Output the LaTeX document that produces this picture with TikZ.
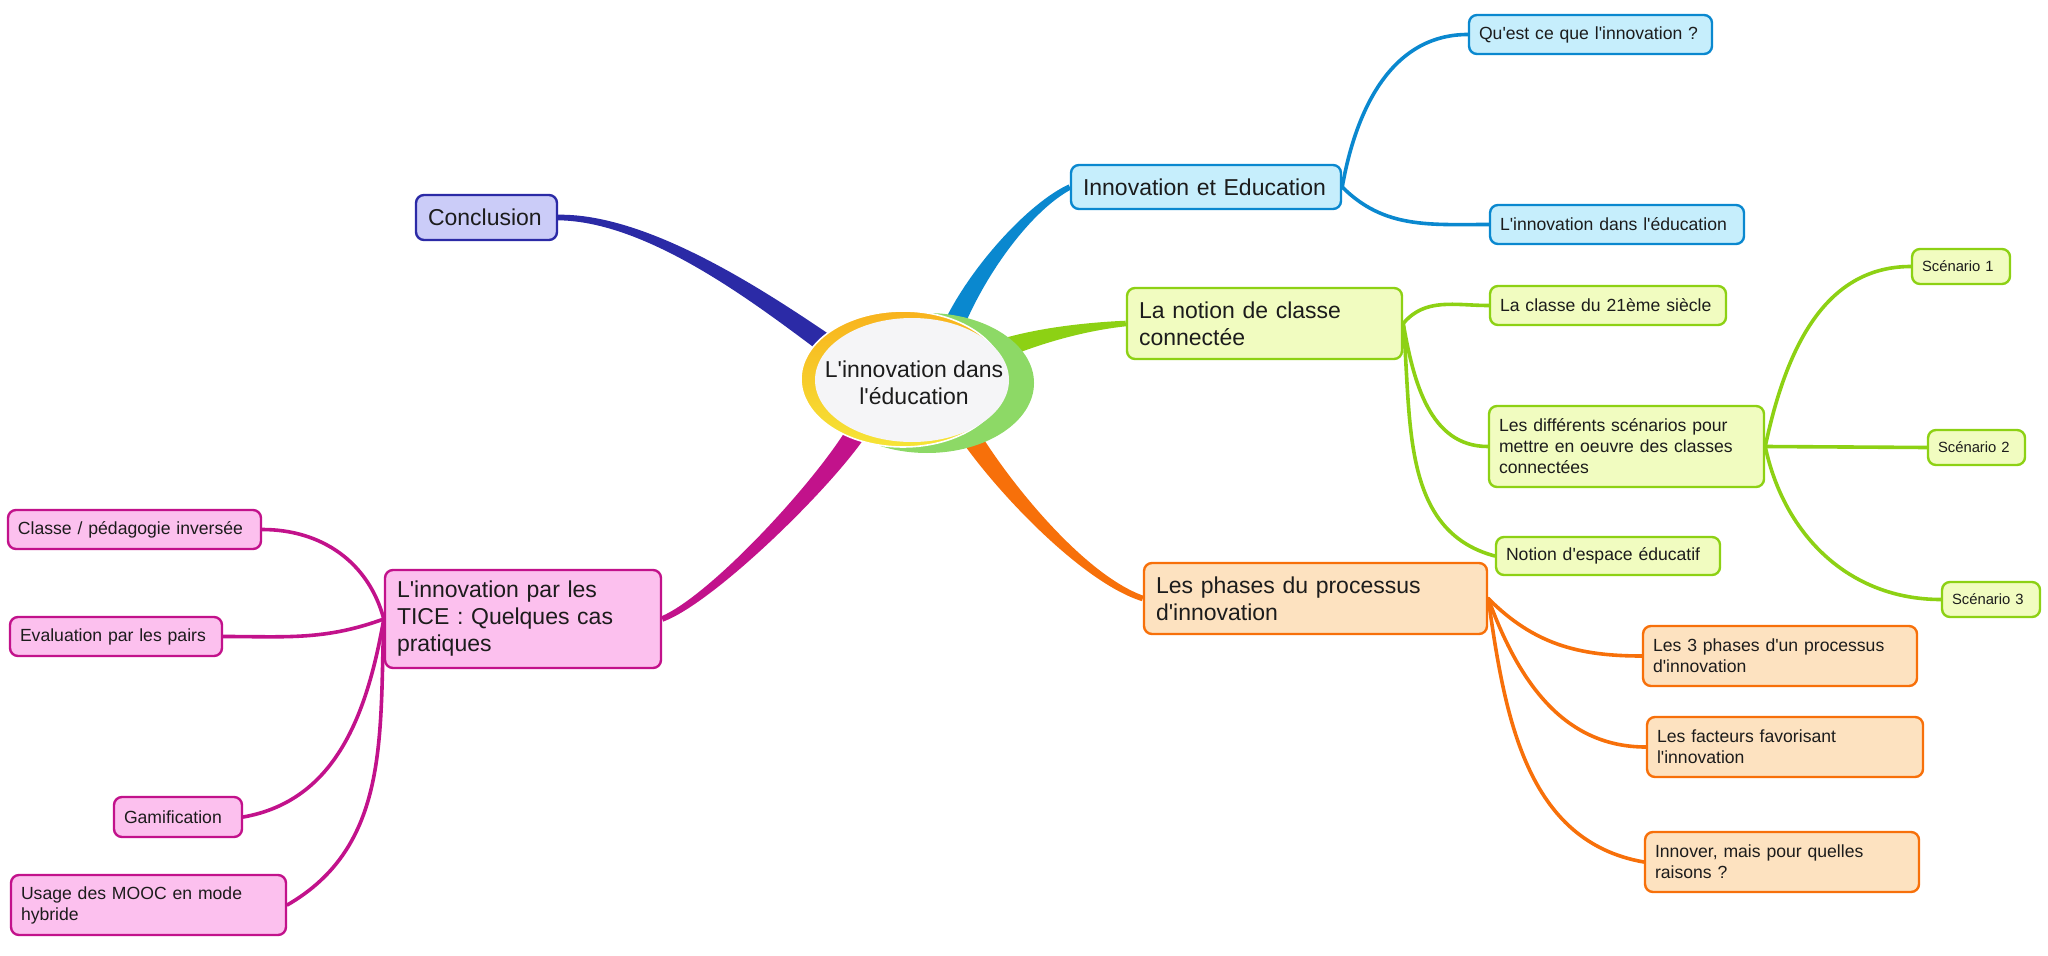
\documentclass[tikz,border=0pt]{standalone}
\usepackage{fontspec}
\setmainfont{Liberation Sans}[Ligatures=TeXOff]
\usetikzlibrary{shapes.geometric, calc, backgrounds}

\definecolor{navyline}{HTML}{2B2AA6}
\definecolor{navyfill}{HTML}{CBCCF8}
\definecolor{blueline}{HTML}{0A88CF}
\definecolor{bluefill}{HTML}{C6EEFC}
\definecolor{greenline}{HTML}{8DD114}
\definecolor{greenfill}{HTML}{F1FCC0}
\definecolor{orangeline}{HTML}{F7700A}
\definecolor{orangefill}{HTML}{FDE2C0}
\definecolor{pinkline}{HTML}{C2128B}
\definecolor{pinkfill}{HTML}{FCC0EE}
\definecolor{ringgreen}{HTML}{8DD966}
\definecolor{ringorange}{HTML}{F8B31D}
\definecolor{ringyellow}{HTML}{F6E436}
\definecolor{ctrfill}{HTML}{F5F5F7}
\definecolor{textdark}{HTML}{1C1C1C}

% tapered main branch: colour, start, control 1, control 2, end
\newcommand{\mmbranch}[5]{%
  \fill[#1] ($(#2)!5pt!90:(#3)$) .. controls ($(#3)!4pt!-90:(#2)$) and ($(#4)!2pt!90:(#5)$) .. ($(#5)!1.4pt!-90:(#4)$)
    -- ($(#5)!1.4pt!90:(#4)$) .. controls ($(#4)!2pt!-90:(#5)$) and ($(#3)!4pt!90:(#2)$) .. ($(#2)!5pt!-90:(#3)$) -- cycle;}

\tikzset{
  box/.style={rounded corners=4pt, line width=1.2pt, align=left, inner xsep=5pt, inner ysep=0pt, text=textdark},
  mainbox/.style={box, inner xsep=6pt, font=\fontsize{11.5}{13.5}\selectfont},
  subbox/.style={box, font=\fontsize{8.8}{10.5}\selectfont},
  scenbox/.style={box, font=\fontsize{7.4}{9}\selectfont},
  navybox/.style={draw=navyline, fill=navyfill},
  bluebox/.style={draw=blueline, fill=bluefill},
  greenbox/.style={draw=greenline, fill=greenfill},
  orangebox/.style={draw=orangeline, fill=orangefill},
  pinkbox/.style={draw=pinkline, fill=pinkfill},
  link/.style={line width=1.8pt, line cap=round},
}

\begin{document}
\begin{tikzpicture}[x=0.5pt, y=0.5pt, line join=round]
\useasboundingbox (0,0) rectangle (2048,955);

\node[ellipse, fill=ctrfill, minimum width=97pt, minimum height=62pt, inner sep=0pt] (ctr) at (912,575) {};
\node[font=\fontsize{11.5}{13.5}\selectfont, align=center, text=textdark] (ctrtext) at (914,572) {L'innovation dans\\l'éducation};

\node[mainbox, navybox, text width=58.5pt, minimum height=22.5pt] (conc) at (486.5,737.5) {Conclusion};

\node[mainbox, bluebox, text width=123pt, minimum height=22pt] (innov) at (1206,768) {Innovation et Education};
\node[subbox, bluebox, text width=111.5pt, minimum height=19.5pt] (quest) at (1590.5,920.5) {Qu'est ce que l'innovation ?};
\node[subbox, bluebox, text width=117pt, minimum height=19.5pt] (dans) at (1617,730.5) {L'innovation dans l'éducation};

\node[mainbox, greenbox, text width=125.5pt, minimum height=35.5pt] (notion) at (1264.5,631.5) {La notion de classe\\connectée};
\node[subbox, greenbox, text width=108pt, minimum height=19.5pt] (siecle) at (1608,649.5) {La classe du 21ème siècle};
\node[subbox, greenbox, text width=127.5pt, minimum height=40.5pt] (diff) at (1626.5,508.5) {Les différents scénarios pour\\mettre en oeuvre des classes\\connectées};
\node[subbox, greenbox, text width=102pt, minimum height=19pt] (espace) at (1608,399) {Notion d'espace éducatif};
\node[scenbox, greenbox, text width=39pt, minimum height=17.5pt] (sc1) at (1961,688.5) {Scénario 1};
\node[scenbox, greenbox, text width=38.5pt, minimum height=17.5pt] (sc2) at (1976.5,507.5) {Scénario 2};
\node[scenbox, greenbox, text width=39pt, minimum height=17.5pt] (sc3) at (1991,355.5) {Scénario 3};

\node[mainbox, orangebox, text width=159.5pt, minimum height=35.5pt] (phases) at (1315.5,356.5) {Les phases du processus\\d'innovation};
\node[subbox, orangebox, text width=127pt, minimum height=30pt] (trois) at (1780,299) {Les 3 phases d'un processus\\d'innovation};
\node[subbox, orangebox, text width=128pt, minimum height=30pt] (facteurs) at (1785,208) {Les facteurs favorisant\\l'innovation};
\node[subbox, orangebox, text width=127pt, minimum height=30pt] (innover) at (1782,93) {Innover, mais pour quelles\\raisons ?};

\node[mainbox, pinkbox, text width=126pt, minimum height=49pt] (tice) at (523,336) {L'innovation par les\\TICE : Quelques cas\\pratiques};
\node[subbox, pinkbox, text width=116.5pt, minimum height=19.5pt] (classe) at (134.5,425.5) {Classe / pédagogie inversée};
\node[subbox, pinkbox, text width=96pt, minimum height=19.5pt] (eval) at (116,318.5) {Evaluation par les pairs};
\node[subbox, pinkbox, text width=54pt, minimum height=20pt] (gami) at (178,138) {Gamification};
\node[subbox, pinkbox, text width=127.5pt, minimum height=30pt] (mooc) at (148.5,50) {Usage des MOOC en mode\\hybride};

\begin{scope}[on background layer]
  % main branches
  \coordinate (cn1) at ($(ctr.158)+(-70,50)$);
  \coordinate (cn2) at ($(conc.east)+(90,0)$);
  \mmbranch{navyline}{ctr.158}{cn1}{cn2}{conc.east}
  \coordinate (bl1) at ($(ctr.53)+(25,55)$);
  \coordinate (bl2) at ($(innov.west)+(-40,-20)$);
  \mmbranch{blueline}{ctr.53}{bl1}{bl2}{innov.west}
  \coordinate (gr1) at ($(ctr.19)+(40,15)$);
  \coordinate (gr2) at ($(notion.west)+(-40,-3)$);
  \mmbranch{greenline}{ctr.19}{gr1}{gr2}{notion.west}
  \coordinate (or1) at ($(ctr.-43)+(35,-55)$);
  \coordinate (or2) at ($(phases.west)+(-60,20)$);
  \mmbranch{orangeline}{ctr.-43}{or1}{or2}{phases.west}
  \coordinate (pk1) at ($(ctr.223)+(-35,-55)$);
  \coordinate (pk2) at ($(tice.east)+(50,20)$);
  \mmbranch{pinkline}{ctr.223}{pk1}{pk2}{tice.east}

  % ring round the centre
  \fill[ringgreen] (927,572) ellipse [x radius=53.5pt, y radius=35pt];
  \shade[top color=ringorange, bottom color=ringyellow, draw=white, line width=0.8pt] (903,576) ellipse [x radius=51pt, y radius=34pt];

  % sub branches
  \draw[link, blueline] (innov.east) to[out=80, in=180] (quest.west);
  \draw[link, blueline] (innov.east) to[out=-45, in=180] (dans.west);
  \draw[link, greenline] (notion.east) to[out=50, in=180] (siecle.west);
  \draw[link, greenline] (notion.east) to[out=-80, in=180] (diff.west);
  \draw[link, greenline] (notion.east) to[out=-85, in=165] (espace.west);
  \draw[link, greenline] (diff.east) to[out=78, in=180] (sc1.west);
  \draw[link, greenline] (diff.east) -- (sc2.west);
  \draw[link, greenline] (diff.east) to[out=-78, in=180] (sc3.west);
  \draw[link, orangeline] (phases.east) to[out=-45, in=180] (trois.west);
  \draw[link, orangeline] (phases.east) to[out=-70, in=180] (facteurs.west);
  \draw[link, orangeline] (phases.east) to[out=-82, in=170] (innover.west);
  \draw[link, pinkline] (tice.west) to[out=105, in=0] (classe.east);
  \draw[link, pinkline] (tice.west) to[out=200, in=0] (eval.east);
  \draw[link, pinkline] (tice.west) to[out=-100, in=10] (gami.east);
  \draw[link, pinkline] (tice.west) to[out=-92, in=30] (mooc.east);
\end{scope}
\end{tikzpicture}
\end{document}
